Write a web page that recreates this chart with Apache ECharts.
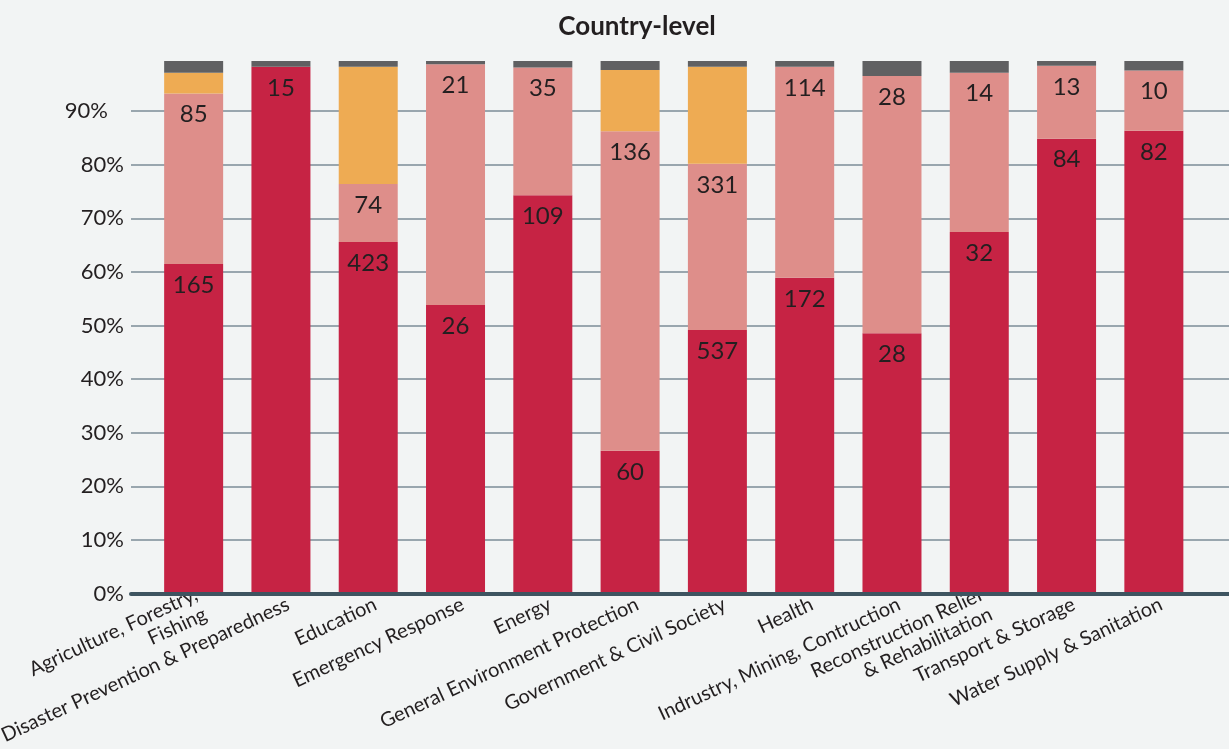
<!DOCTYPE html>
<html>
<head>
<meta charset="utf-8">
<script src="https://cdn.jsdelivr.net/npm/echarts@6/dist/echarts.min.js"></script>
<style>
html,body{margin:0;padding:0;background:#F2F4F4;}
#chart{width:1229px;height:749px;}
</style>
</head>
<body>
<div id="chart"></div>
<script>
const title = 'Country-level';
const categories = [
  'Agriculture, Forestry,\nFishing',
  'Disaster Prevention & Preparedness',
  'Education',
  'Emergency Response',
  'Energy',
  'General Environment Protection',
  'Government & Civil Society',
  'Health',
  'Indrustry, Mining, Contruction',
  'Reconstruction Relief\n& Rehabilitation',
  'Transport & Storage',
  'Water Supply & Sanitation'
];
// share of each bar (%)
const redPct    = [61.9, 98.9, 66.0, 54.2, 74.8, 26.8, 49.5, 59.3, 48.9, 67.9, 85.4, 86.9];
const pinkPct   = [32.0,  0.0, 10.9, 45.2, 24.0, 60.0, 31.2, 39.6, 48.3, 29.9, 13.7, 11.3];
const orangePct = [ 3.9,  0.0, 22.0,  0.0,  0.0, 11.5, 18.2,  0.0,  0.0,  0.0,  0.0,  0.0];
const grayPct   = [ 2.2,  1.1,  1.1,  0.6,  1.2,  1.7,  1.1,  1.1,  2.8,  2.2,  0.9,  1.9];
// counts printed on the segments
const redCounts  = [165, 15, 423, 26, 109, 60, 537, 172, 28, 32, 84, 82];
const pinkCounts = [85, null, 74, 21, 35, 136, 331, 114, 28, 14, 13, 10];
const yTicks = [0, 10, 20, 30, 40, 50, 60, 70, 80, 90];

const FONT = 'Lato, "Open Sans", sans-serif';
const TXT = '#231F20';

const chart = echarts.init(document.getElementById('chart'), null, {renderer: 'canvas'});

function seg(name, data, color, counts) {
  return {
    name: name,
    type: 'bar',
    stack: 'total',
    xAxisIndex: 1,
    yAxisIndex: 1,
    barWidth: 59,
    data: data,
    itemStyle: {color: color},
    label: {
      show: !!counts,
      position: 'insideTop',
      distance: 9,
      fontFamily: FONT,
      fontSize: 24,
      color: TXT,
      formatter: p => (counts && counts[p.dataIndex] != null) ? String(counts[p.dataIndex]) : ''
    },
    emphasis: {disabled: true},
    animation: false
  };
}

const option = {
  backgroundColor: '#F2F4F4',
  animation: false,
  title: {
    text: title,
    left: 632,
    textAlign: 'center',
    top: 9,
    textStyle: {fontFamily: FONT, fontSize: 26, fontWeight: 'bold', color: TXT}
  },
  grid: [
    {left: 131, right: 0, top: 57.6, bottom: 155.4, containLabel: false, outerBoundsMode: 'none'},
    {left: 150, right: 31.5, top: 61, bottom: 155.4, containLabel: false, outerBoundsMode: 'none'}
  ],
  xAxis: [
    {
      gridIndex: 0,
      type: 'category',
      data: [''],
      axisLine: {show: true, lineStyle: {color: '#3E5460', width: 4}},
      axisTick: {show: false},
      axisLabel: {show: false},
      z: 5
    },
    {
      gridIndex: 1,
      type: 'category',
      data: categories,
      axisLine: {show: false},
      axisTick: {show: false},
      axisLabel: {
        rotate: 25,
        interval: 0,
        margin: 13,
        fontFamily: FONT,
        fontSize: 20,
        color: TXT,
        lineHeight: 22,
        padding: [0, -8, 0, 0]
      }
    }
  ],
  yAxis: [
    {
      gridIndex: 0,
      type: 'value',
      min: 0,
      max: 100,
      interval: 10,
      axisLine: {show: false},
      axisTick: {show: false},
      splitLine: {show: true, showMaxLine: false, lineStyle: {color: '#7B8D97', width: 1.5}},
      axisLabel: {
        margin: 7,
        fontFamily: FONT,
        fontSize: 22,
        color: TXT,
        showMaxLabel: false,
        formatter: v => {
          if (yTicks.indexOf(v) < 0) return '';
          return v === 90 ? '{s|' + v + '%}' : v + '%';
        },
        rich: {s: {fontFamily: FONT, fontSize: 22, color: TXT, padding: [0, 16, 0, 0]}}
      }
    },
    {
      gridIndex: 1,
      type: 'value',
      min: 0,
      max: 100,
      show: false,
      splitLine: {show: false}
    }
  ],
  series: [
    seg('red', redPct, '#C62344', redCounts),
    seg('pink', pinkPct, '#DE8E8A', pinkCounts),
    seg('orange', orangePct, '#EEAB53', null),
    seg('gray', grayPct, '#606062', null)
  ]
};
chart.setOption(option);
</script>
</body>
</html>
